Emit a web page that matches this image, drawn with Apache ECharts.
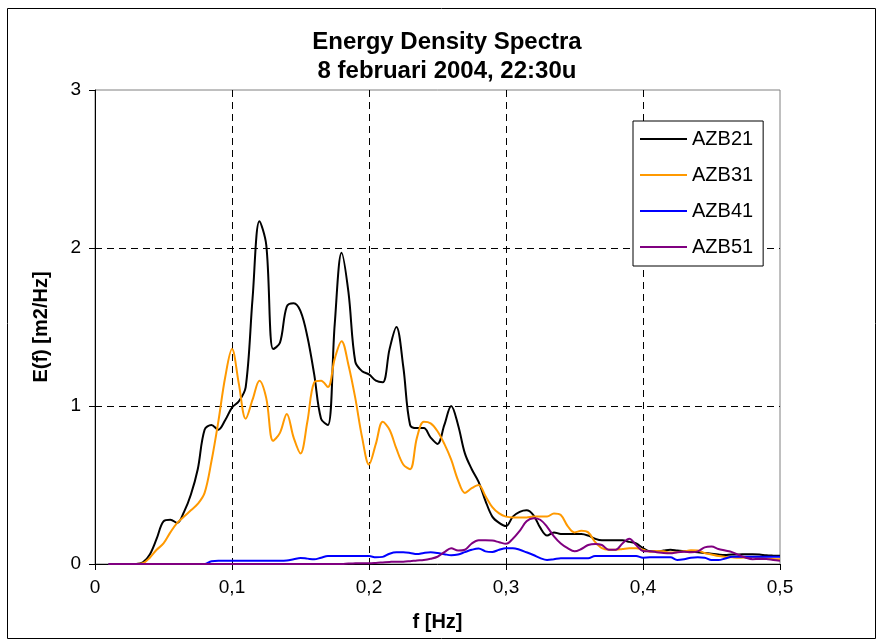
<!DOCTYPE html>
<html>
<head>
<meta charset="utf-8">
<script src="https://cdn.jsdelivr.net/npm/echarts@6/dist/echarts.min.js"></script>
<style>
  html, body { margin: 0; padding: 0; background: #fff; }
  #chart { width: 881px; height: 644px; }
</style>
</head>
<body>
<div id="chart"></div>
<script>
// frequency grid (Hz)
const freqs = [
  0.010, 0.015, 0.020, 0.025, 0.030, 0.035, 0.040, 0.045, 0.050, 0.055,
  0.060, 0.065, 0.070, 0.075, 0.080, 0.085, 0.090, 0.095, 0.100, 0.105,
  0.110, 0.115, 0.120, 0.125, 0.130, 0.135, 0.140, 0.145, 0.150, 0.155,
  0.160, 0.165, 0.170, 0.175, 0.180, 0.185, 0.190, 0.195, 0.200, 0.205,
  0.210, 0.215, 0.220, 0.225, 0.230, 0.235, 0.240, 0.245, 0.250, 0.255,
  0.260, 0.265, 0.270, 0.275, 0.280, 0.285, 0.290, 0.295, 0.300, 0.305,
  0.310, 0.315, 0.320, 0.325, 0.330, 0.335, 0.340, 0.345, 0.350, 0.355,
  0.360, 0.365, 0.370, 0.375, 0.380, 0.385, 0.390, 0.395, 0.400, 0.405,
  0.410, 0.415, 0.420, 0.425, 0.430, 0.435, 0.440, 0.445, 0.450, 0.455,
  0.460, 0.465, 0.470, 0.475, 0.480, 0.485, 0.490, 0.495, 0.500
];

const azb21 = [
  0, 0, 0, 0, 0, 0.01, 0.06, 0.16, 0.27, 0.28,
  0.26, 0.33, 0.44, 0.60, 0.85, 0.88, 0.85, 0.91, 0.99, 1.03,
  1.12, 1.68, 2.17, 2.02, 1.36, 1.40, 1.63, 1.65, 1.60, 1.44,
  1.20, 0.92, 0.88, 1.52, 1.97, 1.72, 1.28, 1.22, 1.20, 1.16,
  1.15, 1.36, 1.50, 1.25, 0.88, 0.86, 0.86, 0.80, 0.76, 0.88,
  1.00, 0.88, 0.70, 0.60, 0.52, 0.40, 0.30, 0.26, 0.24, 0.30,
  0.33, 0.34, 0.31, 0.23, 0.18, 0.20, 0.19, 0.19, 0.19, 0.19,
  0.18, 0.16, 0.15, 0.15, 0.15, 0.15, 0.14, 0.13, 0.10, 0.08,
  0.08, 0.085, 0.09, 0.085, 0.08, 0.078, 0.075, 0.07, 0.065, 0.06,
  0.057, 0.06, 0.06, 0.062, 0.062, 0.06, 0.055, 0.053, 0.052
];

const azb31 = [
  0, 0, 0, 0, 0, 0.005, 0.04, 0.09, 0.13, 0.20,
  0.26, 0.30, 0.34, 0.38, 0.45, 0.65, 0.90, 1.18, 1.36, 1.14,
  0.92, 1.04, 1.16, 1.05, 0.78, 0.83, 0.95, 0.80, 0.70, 0.90,
  1.15, 1.16, 1.12, 1.30, 1.41, 1.26, 1.05, 0.80, 0.63, 0.76,
  0.90, 0.85, 0.73, 0.63, 0.60, 0.80, 0.90, 0.89, 0.84, 0.76,
  0.66, 0.53, 0.45, 0.48, 0.50, 0.43, 0.36, 0.32, 0.30, 0.295,
  0.295, 0.295, 0.30, 0.30, 0.30, 0.32, 0.31, 0.24, 0.20, 0.21,
  0.20, 0.14, 0.10, 0.09, 0.09, 0.095, 0.10, 0.10, 0.09, 0.078,
  0.083, 0.08, 0.073, 0.075, 0.08, 0.087, 0.085, 0.07, 0.06, 0.05,
  0.045, 0.042, 0.04, 0.042, 0.045, 0.04, 0.035, 0.032, 0.03
];

const azb41 = [
  0, 0, 0, 0, 0, 0, 0, 0, 0, 0,
  0, 0, 0, 0, 0, 0.018, 0.02, 0.02, 0.02, 0.02,
  0.02, 0.02, 0.02, 0.02, 0.02, 0.02, 0.022, 0.03, 0.038, 0.034,
  0.03, 0.04, 0.05, 0.05, 0.05, 0.05, 0.05, 0.05, 0.05, 0.042,
  0.045, 0.065, 0.074, 0.074, 0.07, 0.063, 0.07, 0.074, 0.07, 0.062,
  0.055, 0.06, 0.075, 0.09, 0.098, 0.08, 0.076, 0.09, 0.10, 0.10,
  0.09, 0.074, 0.057, 0.037, 0.025, 0.03, 0.036, 0.036, 0.036, 0.036,
  0.036, 0.05, 0.05, 0.05, 0.05, 0.05, 0.05, 0.05, 0.04, 0.042,
  0.042, 0.042, 0.042, 0.025, 0.03, 0.04, 0.042, 0.04, 0.025, 0.025,
  0.035, 0.046, 0.046, 0.046, 0.046, 0.046, 0.046, 0.046, 0.046
];

const azb51 = [
  0, 0, 0, 0, 0, 0, 0, 0, 0, 0,
  0, 0, 0, 0, 0, 0, 0, 0, 0, 0,
  0, 0, 0, 0, 0, 0, 0, 0, 0, 0,
  0, 0, 0, 0, 0, 0.003, 0.004, 0.005, 0.005, 0.007,
  0.01, 0.013, 0.015, 0.015, 0.018, 0.022, 0.025, 0.033, 0.046, 0.075,
  0.10, 0.085, 0.09, 0.13, 0.15, 0.15, 0.148, 0.138, 0.128, 0.16,
  0.21, 0.27, 0.29, 0.28, 0.235, 0.175, 0.13, 0.10, 0.08, 0.095,
  0.12, 0.127, 0.12, 0.09, 0.09, 0.13, 0.16, 0.12, 0.082, 0.08,
  0.075, 0.07, 0.068, 0.075, 0.078, 0.074, 0.08, 0.105, 0.11, 0.095,
  0.085, 0.075, 0.057, 0.04, 0.03, 0.032, 0.032, 0.025, 0.02
];

const seriesNames = ['AZB21', 'AZB31', 'AZB41', 'AZB51'];
const seriesValues = [azb21, azb31, azb41, azb51];
const seriesColors = ['#000000', '#FF9900', '#0000FF', '#800080'];

const FONT = "'Liberation Sans', Arial, sans-serif";

var myChart = echarts.init(document.getElementById('chart'));

var series = seriesNames.map(function (name, i) {
  return {
    name: name,
    type: 'line',
    data: freqs.map(function (f, j) { return [f, seriesValues[i][j]]; }),
    showSymbol: false,
    smooth: 0.35,
    lineStyle: { color: seriesColors[i], width: 2 },
    itemStyle: { color: seriesColors[i] },
    animation: false
  };
});

myChart.setOption({
  backgroundColor: '#fff',
  animation: false,
  title: {
    text: 'Energy Density Spectra\n8 februari 2004, 22:30u',
    left: 447,
    top: 28,
    textAlign: 'center',
    padding: 0,
    textStyle: { fontFamily: FONT, fontSize: 24, fontWeight: 'bold', color: '#000', lineHeight: 29 }
  },
  // outer chart frame
  graphic: [{
    type: 'rect',
    shape: { x: 7.5, y: 8.5, width: 868, height: 630 },
    style: { fill: 'none', stroke: '#000', lineWidth: 1 },
    silent: true
  }],
  legend: {
    orient: 'vertical',
    left: 633,
    top: 121,
    padding: [8, 10, 9, 7],
    itemGap: 16,
    itemWidth: 47,
    itemHeight: 2,
    icon: 'rect',
    backgroundColor: '#fff',
    borderColor: '#000',
    borderWidth: 1,
    borderRadius: 0,
    textStyle: { fontFamily: FONT, fontSize: 20, color: '#000' },
    data: seriesNames
  },
  grid: {
    left: 95, right: 101, top: 90, bottom: 80,
    show: true,
    borderColor: '#808080',
    borderWidth: 1,
    containLabel: false
  },
  xAxis: {
    type: 'value',
    min: 0, max: 0.5, interval: 0.1,
    name: 'f [Hz]',
    nameLocation: 'middle',
    nameGap: 48,
    nameTextStyle: { fontFamily: FONT, fontSize: 20, fontWeight: 'bold', color: '#000' },
    axisLine: { show: true, onZero: false, lineStyle: { color: '#000', width: 1 } },
    axisTick: { show: true, length: 6, inside: false, lineStyle: { color: '#000' } },
    axisLabel: {
      margin: 14,
      fontFamily: FONT, fontSize: 19, color: '#000',
      formatter: function (v) { return String(Math.round(v * 10) / 10).replace('.', ','); }
    },
    splitLine: {
      show: true, showMinLine: false, showMaxLine: false,
      lineStyle: { color: '#000', width: 1, type: [7, 5] }
    }
  },
  yAxis: {
    type: 'value',
    min: 0, max: 3, interval: 1,
    name: 'E(f) [m2/Hz]',
    nameLocation: 'middle',
    nameGap: 44,
    nameRotate: 90,
    nameTextStyle: { fontFamily: FONT, fontSize: 20, fontWeight: 'bold', color: '#000' },
    axisLine: { show: true, onZero: false, lineStyle: { color: '#000', width: 1 } },
    axisTick: { show: true, length: 6, inside: false, lineStyle: { color: '#000' } },
    axisLabel: { margin: 14, fontFamily: FONT, fontSize: 19, color: '#000' },
    splitLine: {
      show: true, showMinLine: false, showMaxLine: false,
      lineStyle: { color: '#000', width: 1, type: [7, 5] }
    }
  },
  series: series
});
</script>
</body>
</html>
